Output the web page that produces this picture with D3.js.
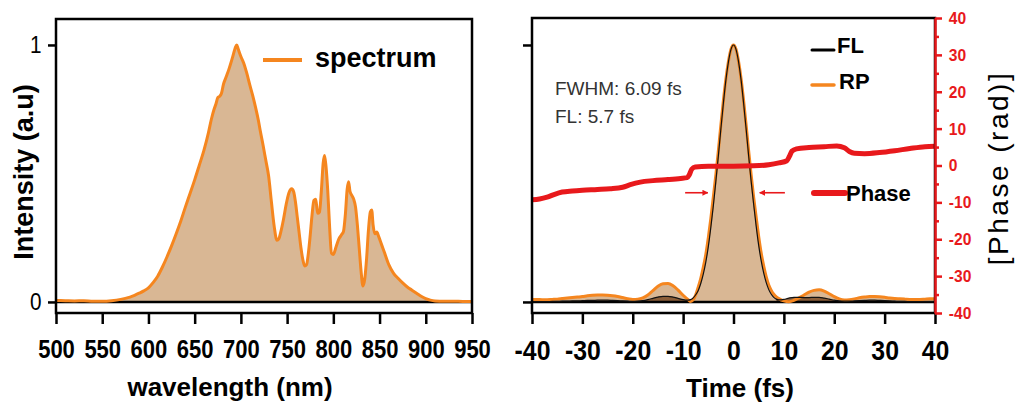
<!DOCTYPE html>
<html>
<head>
<meta charset="utf-8">
<script src="https://cdn.jsdelivr.net/npm/d3@7"></script>
<style>
  html, body { margin: 0; padding: 0; background: #fff; }
  svg { display: block; font-family: "Liberation Sans", Arial, sans-serif; }
</style>
</head>
<body>
<svg id="chart" width="1016" height="403"></svg>
<script>
// ---------------- DATA ----------------
const wavelengthTicks = [500, 550, 600, 650, 700, 750, 800, 850, 900, 950];
const intensityTicks = [0, 1];
const timeTicks = [-40, -30, -20, -10, 0, 10, 20, 30, 40];
const phaseTicks = [-40, -30, -20, -10, 0, 10, 20, 30, 40];
const phaseMinorTicks = [-35, -25, -15, -5, 5, 15, 25, 35];

const wavelengthNm = [500, 510, 520, 530, 540, 550, 560, 570, 575, 580, 585, 590, 595, 600, 605, 610, 615, 620, 625, 630, 635, 640, 645, 650, 655, 660, 665, 668, 671, 673, 675, 677, 679, 681, 684, 687, 690, 692, 694, 695.5, 697, 700, 703, 706, 710, 713, 716, 719, 721, 724, 727, 730, 733, 736, 739, 741, 743, 746, 749, 752, 755, 757, 759, 761, 763, 765, 767, 769, 771, 773, 775, 777, 779, 781, 783, 785, 787, 789, 790.5, 792, 794, 796, 798, 800, 803, 806, 809, 811, 813, 815, 816.5, 818, 820, 822, 824, 826, 828, 830, 832, 834, 836, 838, 840, 841.5, 843, 845, 847, 849, 852, 855, 860, 865, 870, 875, 880, 885, 890, 895, 900, 905, 910, 920, 930, 940, 950];
const spectrumIntensity = [0.006, 0.005, 0.004, 0.005, 0.003, 0.003, 0.005, 0.010, 0.014, 0.019, 0.026, 0.034, 0.043, 0.055, 0.075, 0.100, 0.135, 0.175, 0.218, 0.265, 0.315, 0.370, 0.422, 0.475, 0.532, 0.590, 0.660, 0.710, 0.750, 0.770, 0.795, 0.800, 0.812, 0.845, 0.875, 0.905, 0.940, 0.965, 0.990, 1.000, 0.985, 0.955, 0.930, 0.895, 0.840, 0.800, 0.755, 0.705, 0.665, 0.610, 0.550, 0.490, 0.390, 0.295, 0.240, 0.245, 0.270, 0.320, 0.380, 0.425, 0.440, 0.430, 0.390, 0.330, 0.270, 0.210, 0.165, 0.140, 0.145, 0.190, 0.260, 0.340, 0.395, 0.400, 0.345, 0.350, 0.430, 0.540, 0.570, 0.530, 0.430, 0.290, 0.190, 0.185, 0.215, 0.245, 0.262, 0.275, 0.340, 0.440, 0.468, 0.430, 0.415, 0.400, 0.370, 0.300, 0.210, 0.120, 0.062, 0.090, 0.170, 0.280, 0.350, 0.358, 0.300, 0.265, 0.272, 0.255, 0.225, 0.195, 0.145, 0.112, 0.092, 0.074, 0.058, 0.046, 0.034, 0.022, 0.013, 0.007, 0.004, 0.003, 0.003, 0.002, 0.002];

const timeFs = [-40, -39, -38, -37, -36, -35, -34, -33, -32, -31, -30, -29, -28, -27, -26, -25, -24, -23, -22, -21, -20, -19, -18, -17, -16, -15, -14, -13, -12, -11, -10, -9,
  -8.5, -8, -7.5, -7, -6.5, -6, -5.5, -5, -4.5, -4, -3.5, -3, -2.5, -2, -1.5, -1, -0.5, 0, 0.5, 1, 1.5, 2, 2.5, 3, 3.5, 4, 4.5, 5, 5.5, 6, 6.5, 7, 7.5, 8, 8.5,
  9, 10, 11, 12, 13, 14, 15, 16, 17, 18, 19, 20, 21, 22, 23, 24, 25, 26, 27, 28, 29, 30, 31, 32, 33, 34, 35, 36, 37, 38, 39, 40];
const rpIntensity = [0.010, 0.010, 0.009, 0.009, 0.010, 0.011, 0.013, 0.015, 0.017, 0.019, 0.021, 0.024, 0.026, 0.027, 0.027, 0.026, 0.024, 0.021, 0.017, 0.013, 0.010, 0.011, 0.016, 0.027, 0.044, 0.061, 0.071, 0.072, 0.063, 0.046, 0.026, 0.009,
  0.002, 0.008, 0.028, 0.058, 0.092, 0.135, 0.185, 0.250, 0.325, 0.410, 0.495, 0.590, 0.690, 0.785, 0.870, 0.937, 0.984, 1.000, 0.984, 0.937, 0.870, 0.785, 0.690, 0.590, 0.495, 0.408, 0.330, 0.255, 0.190, 0.140, 0.098, 0.066, 0.045, 0.030, 0.020,
  0.013, 0.004, 0.001, 0.006, 0.016, 0.027, 0.038, 0.045, 0.047, 0.042, 0.032, 0.021, 0.012, 0.008, 0.009, 0.012, 0.016, 0.019, 0.021, 0.021, 0.020, 0.018, 0.015, 0.013, 0.012, 0.011, 0.010, 0.010, 0.010, 0.011, 0.012, 0.012];
const flIntensity = [0.001, 0.001, 0.001, 0.001, 0.002, 0.002, 0.003, 0.003, 0.004, 0.004, 0.005, 0.006, 0.006, 0.007, 0.007, 0.007, 0.006, 0.005, 0.004, 0.003, 0.002, 0.003, 0.005, 0.009, 0.014, 0.019, 0.022, 0.022, 0.019, 0.014, 0.009, 0.007,
  0.009, 0.016, 0.028, 0.045, 0.072, 0.108, 0.155, 0.215, 0.290, 0.375, 0.470, 0.570, 0.675, 0.775, 0.865, 0.935, 0.983, 1.000, 0.983, 0.935, 0.865, 0.775, 0.675, 0.570, 0.470, 0.380, 0.295, 0.220, 0.160, 0.112, 0.075, 0.048, 0.030, 0.018, 0.011,
  0.008, 0.010, 0.015, 0.018, 0.018, 0.017, 0.017, 0.018, 0.018, 0.015, 0.011, 0.007, 0.004, 0.003, 0.003, 0.004, 0.005, 0.006, 0.007, 0.007, 0.006, 0.005, 0.004, 0.003, 0.002, 0.002, 0.001, 0.001, 0.001, 0.001, 0.001, 0.001];

const phaseTime = [-40, -38.5, -37, -35.5, -34, -32, -30, -27, -24.5, -22, -20.5, -18.5, -16, -13, -10.5, -9.2, -8.8, -8.3, -7.6, -5, 0, 4, 7, 9, 10.6, 11.1, 11.6, 12.5, 15, 18, 20.5, 22, 23, 24, 26, 29, 32, 35, 38, 40];
const phaseRad = [-9.3, -9.1, -8.6, -7.8, -7.2, -6.9, -6.7, -6.5, -6.3, -5.9, -5.2, -4.5, -4.1, -3.8, -3.5, -3.3, -2.6, -1.0, -0.4, -0.2, -0.2, -0.1, 0.2, 0.7, 1.3, 2.5, 3.9, 4.5, 4.9, 5.1, 5.3, 4.8, 3.8, 3.3, 3.2, 3.5, 4.0, 4.6, 5.1, 5.2];

// FWHM marker arrows (time from -> time to, at intensity level)
const fwhmArrows = [{ from: -9.6, to: -5.1, level: 0.425 }, { from: 10.2, to: 5.2, level: 0.425 }];
const annotations = ["FWHM: 6.09 fs", "FL: 5.7 fs"];

// ---------------- STYLE ----------------
const ORANGE = "#f5861f", TAN = "#d9b794", DARK = "#7b4e28", RED = "#e8191c";
const FONT = '"Liberation Sans", Arial, sans-serif';
const plainFmt = d => String(d);   // hyphen-minus like the original

const svg = d3.select("#chart");
const defs = svg.append("defs");

// ---------------- LEFT PANEL ----------------
const L = { x0: 56, x1: 472, y0: 19, y1: 313 };
const xL = d3.scaleLinear().domain([500, 950]).range([L.x0, L.x1]);
const yL = d3.scaleLinear().domain([-0.043, 1.101]).range([L.y1, L.y0]);

defs.append("clipPath").attr("id", "clipL").append("rect")
  .attr("x", L.x0).attr("y", L.y0).attr("width", L.x1 - L.x0).attr("height", L.y1 - L.y0);

const spec = wavelengthNm.map((w, i) => ({ x: w, y: spectrumIntensity[i] }));
const gL = svg.append("g").attr("clip-path", "url(#clipL)");
gL.append("path").datum(spec)
  .attr("fill", TAN)
  .attr("d", d3.area().x(d => xL(d.x)).y0(yL(0)).y1(d => yL(d.y)).curve(d3.curveMonotoneX));
gL.append("line").attr("x1", L.x0).attr("x2", L.x1).attr("y1", yL(0)).attr("y2", yL(0))
  .attr("stroke", "#000").attr("stroke-width", 2.5);
gL.append("path").datum(spec)
  .attr("fill", "none").attr("stroke", ORANGE).attr("stroke-width", 3).attr("stroke-linejoin", "round")
  .attr("d", d3.line().x(d => xL(d.x)).y(d => yL(d.y)).curve(d3.curveMonotoneX));

svg.append("rect").attr("x", L.x0).attr("y", L.y0).attr("width", L.x1 - L.x0).attr("height", L.y1 - L.y0)
  .attr("fill", "none").attr("stroke", "#000").attr("stroke-width", 2.5);

const axLB = svg.append("g").attr("transform", `translate(0,${L.y1})`)
  .call(d3.axisBottom(xL).tickValues(wavelengthTicks).tickFormat(plainFmt).tickSize(11).tickPadding(16).tickSizeOuter(0));
axLB.select(".domain").remove();
axLB.selectAll("line").attr("stroke", "#000").attr("stroke-width", 2.5);
axLB.selectAll("text").attr("font-size", 25).attr("font-weight", "bold").attr("font-family", FONT)
  .attr("fill", "#000").attr("transform", "scale(0.88,1)");

const axLL = svg.append("g").attr("transform", `translate(${L.x0},0)`)
  .call(d3.axisLeft(yL).tickValues(intensityTicks).tickFormat(plainFmt).tickSize(8).tickPadding(8).tickSizeOuter(0));
axLL.select(".domain").remove();
axLL.selectAll("line").attr("stroke", "#000").attr("stroke-width", 2.5);
axLL.selectAll("text").attr("font-size", 23).attr("font-family", FONT)
  .attr("fill", "#000").attr("transform", "scale(0.9,1)");

svg.append("text").attr("transform", "translate(33,172) rotate(-90)")
  .attr("text-anchor", "middle").attr("font-size", 27).attr("font-weight", "bold").attr("font-family", FONT)
  .text("Intensity (a.u)");
svg.append("text").attr("x", 230).attr("y", 396)
  .attr("text-anchor", "middle").attr("font-size", 26).attr("font-weight", "bold").attr("font-family", FONT)
  .text("wavelength (nm)");

// legend
svg.append("line").attr("x1", 263).attr("x2", 302).attr("y1", 60).attr("y2", 60)
  .attr("stroke", ORANGE).attr("stroke-width", 4);
svg.append("text").attr("x", 315).attr("y", 67).attr("font-size", 27).attr("font-weight", "bold")
  .attr("font-family", FONT).text("spectrum");

// ---------------- RIGHT PANEL ----------------
const R = { x0: 532, x1: 935, y0: 18, y1: 313 };
const xR = d3.scaleLinear().domain([-40, 40]).range([R.x0, R.x1]);
const yR = d3.scaleLinear().domain([-0.043, 1.105]).range([R.y1, R.y0]);
const pR = d3.scaleLinear().domain([-40, 40]).range([R.y1, R.y0]);

defs.append("clipPath").attr("id", "clipR").append("rect")
  .attr("x", R.x0).attr("y", R.y0).attr("width", R.x1 - R.x0).attr("height", R.y1 - R.y0);

const rp = timeFs.map((t, i) => ({ x: t, y: rpIntensity[i] }));
const fl = timeFs.map((t, i) => ({ x: t, y: flIntensity[i] }));
const ph = phaseTime.map((t, i) => ({ x: t, y: phaseRad[i] }));

const gR = svg.append("g").attr("clip-path", "url(#clipR)");
const areaR = d3.area().x(d => xR(d.x)).y0(yR(0)).y1(d => yR(d.y)).curve(d3.curveMonotoneX);
const lineR = d3.line().x(d => xR(d.x)).y(d => yR(d.y)).curve(d3.curveMonotoneX);

gR.append("path").datum(rp).attr("fill", TAN).attr("d", areaR);
// FL area shown in side lobes
gR.append("path").datum(fl).attr("fill", DARK).attr("fill-opacity", 0.85)
  .attr("d", areaR.defined(d => Math.abs(d.x) >= 8.5));
areaR.defined(() => true);
gR.append("line").attr("x1", R.x0).attr("x2", R.x1).attr("y1", yR(0)).attr("y2", yR(0))
  .attr("stroke", "#000").attr("stroke-width", 2.5);
gR.append("path").datum(rp).attr("fill", "none").attr("stroke", ORANGE).attr("stroke-width", 3)
  .attr("stroke-linejoin", "round").attr("d", lineR);
gR.append("path").datum(fl).attr("fill", "none").attr("stroke", "#111").attr("stroke-width", 1.2)
  .attr("d", lineR);
gR.append("path").datum(ph).attr("fill", "none").attr("stroke", RED).attr("stroke-width", 5)
  .attr("stroke-linejoin", "round")
  .attr("d", d3.line().x(d => xR(d.x)).y(d => pR(d.y)).curve(d3.curveMonotoneX));

// arrows
defs.append("marker").attr("id", "arrowHead").attr("viewBox", "0 0 10 10")
  .attr("refX", 9).attr("refY", 5).attr("markerWidth", 6).attr("markerHeight", 6)
  .attr("markerUnits", "userSpaceOnUse").attr("orient", "auto")
  .append("path").attr("d", "M0,0 L10,5 L0,10 z").attr("fill", RED);
svg.selectAll(".fwhmArrow").data(fwhmArrows).join("line").attr("class", "fwhmArrow")
  .attr("x1", d => xR(d.from)).attr("x2", d => xR(d.to))
  .attr("y1", d => yR(d.level)).attr("y2", d => yR(d.level))
  .attr("stroke", RED).attr("stroke-width", 1.6).attr("marker-end", "url(#arrowHead)");

// frame
svg.append("rect").attr("x", R.x0).attr("y", R.y0).attr("width", R.x1 - R.x0).attr("height", R.y1 - R.y0)
  .attr("fill", "none").attr("stroke", "#000").attr("stroke-width", 2.5);

const axRB = svg.append("g").attr("transform", `translate(0,${R.y1})`)
  .call(d3.axisBottom(xR).tickValues(timeTicks).tickFormat(plainFmt).tickSize(11).tickPadding(17).tickSizeOuter(0));
axRB.select(".domain").remove();
axRB.selectAll("line").attr("stroke", "#000").attr("stroke-width", 2.5);
axRB.selectAll("text").attr("font-size", 27).attr("font-weight", "bold").attr("font-family", FONT)
  .attr("fill", "#000").attr("transform", "scale(0.92,1)");

const axRL = svg.append("g").attr("transform", `translate(${R.x0},0)`)
  .call(d3.axisLeft(yR).tickValues(intensityTicks).tickSize(9).tickFormat("").tickSizeOuter(0));
axRL.select(".domain").remove();
axRL.selectAll("line").attr("stroke", "#000").attr("stroke-width", 2.5);

// red phase axis
const axPm = svg.append("g").attr("transform", `translate(${R.x1},0)`)
  .call(d3.axisRight(pR).tickValues(phaseMinorTicks).tickSize(4).tickFormat("").tickSizeOuter(0));
axPm.select(".domain").remove();
axPm.selectAll("line").attr("stroke", RED).attr("stroke-width", 2.5);
const axP = svg.append("g").attr("transform", `translate(${R.x1},0)`)
  .call(d3.axisRight(pR).tickValues(phaseTicks).tickFormat(plainFmt).tickSize(7).tickPadding(8).tickSizeOuter(0));
axP.select(".domain").attr("stroke", RED).attr("stroke-width", 2.5);
axP.selectAll("line").attr("stroke", RED).attr("stroke-width", 2.5);
axP.selectAll("text").attr("font-size", 17).attr("font-weight", "bold").attr("font-family", FONT)
  .attr("fill", RED).attr("transform", "scale(0.92,1)");

svg.append("text").attr("transform", "translate(1008,168) rotate(-90)")
  .attr("text-anchor", "middle").attr("font-size", 28).attr("font-family", FONT)
  .attr("letter-spacing", 2.5).attr("fill", "#000").text("[Phase (rad)]");
svg.append("text").attr("x", 740).attr("y", 397)
  .attr("text-anchor", "middle").attr("font-size", 26).attr("font-weight", "bold").attr("font-family", FONT)
  .text("Time (fs)");

// annotations
svg.selectAll(".annot").data(annotations).join("text").attr("class", "annot")
  .attr("x", 555).attr("y", (d, i) => 95 + i * 28)
  .attr("font-size", 19).attr("font-family", FONT).attr("fill", "#333").text(d => d);

// legends
const legR = [
  { label: "FL", color: "#000", width: 3, x1: 812, x2: 834, ly: 50, ty: 53, tx: 837 },
  { label: "RP", color: ORANGE, width: 3.5, x1: 812, x2: 834, ly: 85, ty: 89, tx: 839 },
  { label: "Phase", color: RED, width: 6, x1: 814, x2: 845, ly: 193, ty: 201, tx: 846 }
];
const lg = svg.selectAll(".legR").data(legR).join("g").attr("class", "legR");
lg.append("line").attr("x1", d => d.x1).attr("x2", d => d.x2).attr("y1", d => d.ly).attr("y2", d => d.ly)
  .attr("stroke", d => d.color).attr("stroke-width", d => d.width).attr("stroke-linecap", "round");
lg.append("text").attr("x", d => d.tx).attr("y", d => d.ty).attr("font-size", 22).attr("font-weight", "bold")
  .attr("font-family", FONT).text(d => d.label);
</script>
</body>
</html>
